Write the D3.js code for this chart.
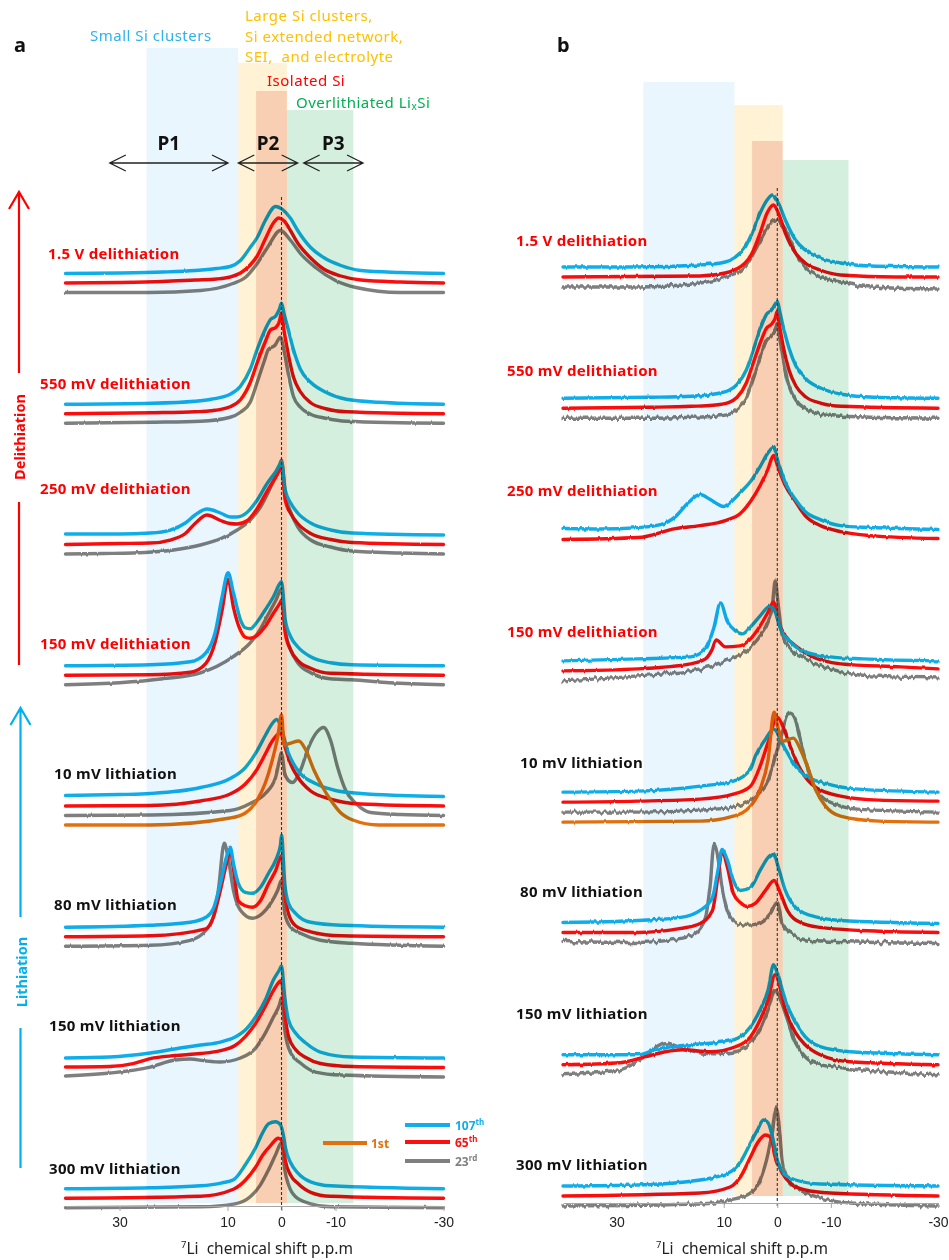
<!DOCTYPE html>
<html>
<head>
<meta charset="utf-8">
<script src="https://cdn.jsdelivr.net/npm/d3@7"></script>
<style>
  body { margin: 0; background: #fff; }
  svg { display: block; }
</style>
</head>
<body>
<svg id="fig" width="949" height="1260"></svg>
<script>
// ---------- data ----------
const rows = ["1.5 V delithiation", "550 mV delithiation", "250 mV delithiation", "150 mV delithiation",
              "10 mV lithiation", "80 mV lithiation", "150 mV lithiation", "300 mV lithiation"];
const rowIsDelith = [true, true, true, true, false, false, false, false];
const cycles = ["107th", "65th", "23rd", "1st"];
const shiftTicks = [30, 10, 0, -10, -30];

// chemical-shift regions (ppm)
const regionFrom = [25, 8, 4.7, -1];
const regionTo = [8, -1, -1, -13.3];

// P1 / P2 / P3 ranges (ppm)
const pNames = ["P1", "P2", "P3"];
const pFrom = [31.8, 8.0, -4.1];
const pTo = [9.9, -3.0, -15.1];

// spectra, [shift ppm, intensity a.u.] per state; panel a
const aBlue = [
  [[40,0],[30,0.5],[22,1.5],[16,3],[12,5],[9.5,7],[7.6,13],[5.8,26],[4.5,36],[3,53],[1.1,67],[-0.2,64],[-1.7,55],[-3,43],[-5.4,26],[-7.8,16],[-11,8],[-14.7,3],[-22,1],[-30,0]],
  [[40,0],[24,1],[16,3],[13,5],[9.5,10],[7.6,18],[5.8,35],[4.5,55],[3,75],[2,85],[1.1,88],[0.4,95],[0,101],[-0.5,90],[-1.1,78],[-2.2,55],[-3.5,35],[-5.4,22],[-8.2,12],[-12,5],[-18,2],[-30,0]],
  [[40,1],[30,1],[24.3,2],[20.6,5],[17.8,12],[16,20],[13.8,26],[11.3,22],[9.5,18],[8.2,18],[6.3,23],[4.5,35],[2.6,52],[1.1,63],[0,72],[-0.7,45],[-1.7,32],[-3,22],[-5.4,12],[-9.1,5],[-13,2],[-30,0]],
  [[40,0],[24.3,1],[16.9,4],[14,13],[12.3,33],[11,69],[9.9,93],[8.9,73],[7.6,46],[6.7,38],[5.8,37],[4.5,44],[3,56],[1.5,69],[0.2,83],[0,84],[-0.7,46],[-1.7,29],[-3,19],[-5.4,9],[-9.1,3],[-13,1],[-30,0]],
  [[40,1],[30,2],[24.3,3],[15,9],[9.5,18],[6.7,29],[4.5,46],[3,61],[1.7,73],[0.9,77],[0,68],[-1.1,46],[-2.2,33],[-3.5,23],[-6.3,13],[-10,6],[-14.7,3],[-22,1],[-30,0]],
  [[40,0],[24.3,2],[16.9,5],[14,10],[12.6,19],[11.3,44],[10.2,70],[9.5,80],[8.9,64],[8,44],[6.7,35],[5.4,34],[3.9,40],[2.4,54],[1.1,67],[0.2,82],[0,92],[-0.6,44],[-1.3,24],[-2.6,14],[-5.4,5],[-11,2],[-30,0]],
  [[40,0],[31.8,1],[24.3,5],[18.8,10],[15,13],[11.3,16],[8.6,21],[6.7,28],[4.8,41],[3,58],[1.5,78],[0.4,88],[0,92],[-0.6,61],[-1.3,38],[-2.6,25],[-4.5,15],[-7.2,6],[-13,1],[-30,0]],
  [[40,0],[24.3,1],[15,3],[11,6],[8.9,9],[6.7,24],[4.8,41],[3.5,56],[2.4,65],[1.1,67],[0.2,64],[-0.4,52],[-0.7,42],[-1.7,26],[-3,16],[-5.4,7],[-9.1,3],[-30,0]]
];
const aRed = [
  [[40,0],[30,0.5],[22,1.5],[16,3],[12,4],[9.5,6],[7.6,10],[5.8,18],[4.5,27],[3,44],[1.5,60],[0.5,65],[-0.5,62],[-1.7,52],[-3,40],[-5.4,25],[-7.8,14],[-11,7],[-14.7,3],[-22,1],[-30,0]],
  [[40,0],[24,1],[16,2],[13,3],[9.5,7],[7.6,14],[5.8,31],[4.5,51],[3,72],[2,84],[1.1,86],[0.4,92],[0,101],[-0.5,82],[-1.1,64],[-2.2,37],[-3.5,22],[-5.4,11],[-8.2,5],[-12,2],[-30,0]],
  [[40,0],[30,1],[24.3,1.5],[20.6,4.5],[17.8,11],[16,21],[13.8,29.5],[11.3,24],[9.5,21],[8.2,20.5],[6.3,24],[4.5,36],[2.6,54],[1.1,67],[0,76],[-0.7,44],[-1.7,31],[-3,21],[-5.4,11],[-9.1,5],[-13,2],[-30,0]],
  [[40,0],[24.3,0.5],[16.9,3],[14,12],[12.3,33],[11,65],[9.9,96],[8.9,68],[7.6,45],[6.7,38],[5.8,37],[4.5,40],[3,49],[1.5,62],[0.2,73],[0,75],[-0.7,42],[-1.7,25],[-3,15],[-5.4,7],[-9.1,2],[-30,0]],
  [[40,0],[24.3,0.5],[15,5],[9.5,12],[6.7,22],[4.5,37],[3,52],[1.7,65],[0.2,73],[-0.7,58],[-1.7,42],[-3,29],[-5.4,15],[-9.1,7],[-14.7,2],[-30,0]],
  [[40,0],[24.3,1],[14,8],[12.6,20],[11.3,47],[10.2,73],[9.5,86],[8.9,68],[8,36],[6.7,31],[5.4,29.5],[3.9,36],[2.4,53],[1.1,66],[0,81],[-0.6,43],[-1.3,23],[-2.6,11],[-5.4,5],[-11,1],[-30,0]],
  [[40,0.5],[31.8,1],[27.5,4],[24.3,9],[19.7,12],[15,14],[11.3,17],[8.6,22],[6.7,31],[4.8,44],[3,61],[1.5,77],[0,87],[-0.6,54],[-1.3,31],[-2.6,18],[-4.5,10],[-7.2,4],[-13,1],[-30,0]],
  [[40,0],[15,2],[8.9,9],[6.7,18],[4.8,31],[3.5,43],[2,53],[0.6,60],[0,58],[-0.4,50],[-0.7,38],[-1.7,23],[-3,15],[-5.4,6],[-9.1,2],[-30,0]]
];
const aGray = [
  [[40,0],[24.5,0],[15,2],[9,9],[6.7,15],[4.5,29],[2.6,45],[0.2,62],[-1.7,52],[-3.5,39],[-6.3,25],[-10,12],[-13.8,5],[-22,0],[-30,0]],
  [[40,0],[24,1],[15,2],[9.5,6],[7.6,11],[5.8,21],[4.5,41],[3.2,62],[2.4,74],[1.2,78],[0.2,86],[-0.5,72],[-1.1,54],[-2.2,27],[-3.5,16],[-5.4,9],[-8.2,5],[-12,2],[-30,0]],
  [[40,0],[33,0.5],[27.5,1],[20,4],[15,9],[11,16],[8.2,24],[5.8,34],[3.9,47],[2,67],[0.6,84],[0,94],[-0.7,60],[-1.7,42],[-3,27],[-5.4,14],[-9.1,7],[-13,3],[-22,1],[-30,0]],
  [[40,0],[30,2],[22,6],[15,12],[9,28],[5.8,42],[4,55],[2.5,70],[1,85],[0,96],[-0.7,55],[-1.7,35],[-3,22],[-5.4,12],[-9,6],[-13,5],[-20,2],[-30,0]],
  [[40,0],[24,0.5],[9.5,5],[5.8,12],[3,22],[1.1,38],[0.4,55],[0,63],[-0.6,42],[-1.3,35],[-2,33],[-3.5,45],[-5,68],[-6.5,83],[-7.8,88],[-9.1,75],[-10.4,48],[-11.9,25],[-13.8,12],[-16.5,3],[-22,1],[-30,0]],
  [[40,0],[24.3,1],[16.9,6],[14,16],[12.6,29],[11.7,56],[10.6,103],[9.9,89],[8.9,56],[7.6,36],[5.4,28],[3.5,33],[2,43],[0.7,56],[0,66],[-0.6,33],[-1.7,19],[-3.5,13],[-7.2,6],[-13,3],[-30,0]],
  [[40,1],[31.8,4],[24.3,10],[19.7,17],[16.9,18],[14,16],[11.3,15],[7.6,19],[4.8,29],[3,44],[1.5,60],[0.4,72],[0,79],[-0.6,47],[-1.7,24],[-3.5,14],[-6.3,5],[-11,2],[-30,0]],
  [[40,0],[15,1],[8.6,4],[5.8,11],[3.9,23],[2.4,38],[1.1,53],[0,65],[-0.6,38],[-1.3,23],[-2.6,11],[-5.4,4],[-9.1,1],[-30,0]]
];
const aOrange = [null, null, null, null,
  [[40,0],[24.3,0],[9.5,7],[6.7,12],[4.5,25],[3,42],[1.7,65],[0.7,88],[0,110],[-0.5,80],[-1.7,82],[-3.2,84],[-4.5,75],[-6,55],[-7.6,38],[-9.1,25],[-11,12],[-13.2,5],[-18,0],[-30,0]],
  null, null, null];

// panel b
const bBlue = [
  [[40,0],[26,0],[14.4,2],[9.7,5],[7.8,10],[6,20],[4.7,34],[3.2,54],[1.9,67],[0.9,72],[-0.2,64],[-1.5,47],[-3.4,27],[-5.2,17],[-8,9],[-11.8,4],[-17.4,1],[-30,0]],
  [[40,0],[24,1],[16,2],[12,4],[9,8],[7.5,14],[5.8,28],[4.5,48],[3,72],[2,84],[1.1,88],[0.4,94],[0,97],[-0.5,86],[-1.1,72],[-2.2,50],[-3.5,32],[-5.4,19],[-8.2,10],[-12,4],[-18,1],[-30,0]],
  [[40,1],[33,0.5],[26,2],[21.8,5],[19,13],[16.6,27],[14.4,35],[12.5,30],[11,25],[10,23],[8.8,27],[6.9,37],[5,48],[3.2,63],[1.7,77],[0.7,82],[-0.2,67],[-1.5,47],[-3.4,30],[-5.2,18],[-8,10],[-11.8,4],[-17.4,2],[-30,0]],
  [[40,0],[26,2],[16.2,4],[13.4,12],[11.9,32],[10.6,58],[9.3,39],[7.8,30],[6.5,27],[5,34],[3.2,45],[1.3,55],[0.4,49],[-0.6,32],[-2.4,19],[-5.2,9],[-9.9,4],[-16,2],[-30,0]],
  [[40,0],[26,1],[14.4,6],[8.2,11],[5,23],[4.1,36],[2.2,53],[0.7,63],[-1.5,43],[-3.4,26],[-5.8,15],[-9.5,8],[-15.1,3],[-30,0]],
  [[40,1],[26,3],[18,6],[14.4,13],[12.1,26],[11,56],[10.3,74],[9.3,63],[8.2,43],[6.9,33],[5,36],[3.2,53],[1.7,66],[0.7,70],[-0.2,56],[-1.5,33],[-3.4,16],[-6.2,8],[-11.8,3],[-30,0]],
  [[40,0],[26,0],[22.8,5],[20.9,7],[16.2,10],[9.7,13],[6.9,18],[5,28],[3.2,45],[1.7,65],[0.7,90],[-0.2,78],[-1.5,55],[-3.4,32],[-5.2,18],[-8,8],[-13.6,3],[-30,0]],
  [[40,0],[26,1],[14.4,6],[8.8,14],[6.9,24],[5,43],[3.7,56],[2.6,66],[1.7,63],[0.9,49],[0,26],[-0.9,14],[-3.4,6],[-8,2],[-30,0]]
];
const bRed = [
  [[40,0],[14.4,1],[9.7,4],[6,14],[4.7,24],[3.2,44],[1.9,64],[0.7,72],[-0.2,64],[-1.5,44],[-3.4,24],[-5.2,14],[-8,7],[-11.8,2],[-22,0],[-30,0]],
  [[40,0],[24,1],[16,2],[12,3],[9,6],[7.5,11],[5.8,25],[4.5,45],[3,68],[2,80],[1.1,84],[0.4,90],[0,97],[-0.5,80],[-1.1,62],[-2.2,38],[-3.5,22],[-5.4,11],[-8.2,5],[-12,2],[-30,0]],
  [[40,0],[26,2],[19,11],[14.4,14],[9.7,19],[6.9,26],[5,38],[3.2,54],[1.7,71],[0.7,84],[-0.2,71],[-1.5,54],[-3.4,38],[-5.2,24],[-8,14],[-11.8,8],[-17.4,4],[-30,1]],
  [[40,0],[26,2],[16.2,7],[13.4,12],[12.2,21],[11.4,31],[9.7,24],[7,25],[5,32],[3.2,45],[1.7,59],[0.7,69],[-0.2,49],[-1.5,35],[-3.4,25],[-6.2,15],[-11.8,7],[-23,4],[-30,2]],
  [[40,0],[26,1],[14.4,3],[8.2,8],[5,16],[3.2,36],[1.7,60],[0,85],[-1.1,75],[-2.4,56],[-4.3,33],[-7.1,15],[-11.8,6],[-19,2],[-30,1]],
  [[40,1],[26,1],[18,5],[14.4,10],[12.1,23],[11,60],[10.3,82],[9.3,66],[8.2,40],[6.9,31],[5.6,27],[4.1,30],[2.2,43],[0.6,53],[-0.6,40],[-1.9,23],[-4.3,11],[-8,6],[-15.5,3],[-30,1]],
  [[40,0],[29.3,2],[24.6,8],[20.9,13],[17.7,15],[12.5,13],[7.8,18],[5,28],[3.2,45],[1.7,65],[0.4,90],[-1.5,55],[-3.4,32],[-5.2,20],[-8,10],[-13.6,3],[-30,0]],
  [[40,0],[14.4,3],[8.8,9],[6.9,19],[5,39],[3.7,53],[2.2,61],[1.3,59],[0.4,39],[-0.9,23],[-2.4,13],[-5.2,6],[-9.9,3],[-30,0]]
];
const bGray = [
  [[40,0],[26,0],[14.4,4],[9.7,10],[6,20],[4.1,37],[2.2,57],[0.4,67],[-1.5,57],[-3.4,34],[-5.2,20],[-8,10],[-11.8,5],[-17.4,0],[-30,-2]],
  [[40,0],[24,0],[16,1],[12,2],[9,4],[7.5,9],[5.8,20],[4.5,40],[3,64],[2,78],[1.1,82],[0.4,88],[0,95],[-0.5,78],[-1.1,58],[-2.2,32],[-3.5,18],[-5.4,9],[-8.2,4],[-12,2],[-30,0]],
  null,
  [[40,0],[26,5],[14.4,12],[9.7,20],[6,29],[3.2,45],[1.7,59],[0.9,75],[0.4,100],[-0.2,75],[-0.9,45],[-2.4,32],[-5.2,22],[-9.9,12],[-17.4,5],[-30,3]],
  [[40,0],[26,0],[14.4,2],[8.2,5],[5,12],[3.2,20],[1.7,32],[0.4,55],[-0.9,80],[-1.7,95],[-2.4,99],[-3.2,95],[-4.3,73],[-5.4,50],[-6.6,30],[-8.2,16],[-10.8,8],[-15,3],[-30,0]],
  [[40,2],[26,1],[18,5],[15.3,10],[13.4,26],[12.5,60],[11.8,99],[11,83],[10.3,56],[9.1,30],[7.8,21],[5.6,18],[3.2,21],[1.3,30],[0,41],[-0.9,20],[-2.4,10],[-6.2,3],[-30,0]],
  [[40,0],[29.3,5],[25.6,15],[22.8,27],[20.9,32],[18.1,27],[14.4,22],[11.6,21],[7.8,23],[5,32],[3.2,45],[1.7,65],[0.4,85],[-0.6,75],[-1.9,55],[-3.4,32],[-5.2,18],[-8,10],[-13.6,6],[-23,2],[-30,0]],
  [[40,0],[14.4,2],[8.8,6],[5,13],[3.2,26],[1.7,53],[0.9,76],[0.2,99],[-0.4,76],[-0.9,46],[-2,26],[-4.3,16],[-8,8],[-13.6,3],[-30,0]]
];
const bOrange = [null, null, null, null,
  [[40,0],[14.4,1],[8.2,6],[5,16],[3.2,33],[1.7,63],[0.6,110],[-0.2,93],[-1.1,81],[-3,84],[-4.3,73],[-5.8,53],[-7.1,33],[-9,16],[-11.8,6],[-19,1],[-30,0]],
  null, null, null];

// ---------- styles ----------
const cycleColors = ["#10aeea", "#fb0f0f", "#7f7f7f", "#e2700e"];
const regionColors = ["#e9f6fd", "#fff2d5", "#f9dad6", "#d5efdf"];
const regionTextColors = ["#2cb4ea", "#ffc000", "#ff0000", "#00b050"];
const labelFont = "'Noto Sans', 'DejaVu Sans', sans-serif";
const tickFont = "'Liberation Sans', Arial, sans-serif";

const panels = [
  { letter: "a", x0: 65.5, x1: 443.5, r0: 273.5, r1: 1188.8, gap: 9.5,
    series: [aBlue, aRed, aGray, aOrange], noise: [1.6, 1.5, 2.2, 1.5],
    bandTop: [48, 63, 91, 110], bandBottom: 1203, axisY: 1206, tickPad: 6, zeroTop: 197,
    labelX: [48, 40, 40, 40, 54, 54, 49, 49], labelY: [253, 383, 488, 643, 773, 904, 1025, 1168],
    letterX: 14, titleX: 267 },
  { letter: "b", x0: 563, x1: 938, r0: 267, r1: 1186, gap: 10,
    series: [bBlue, bRed, bGray, bOrange], noise: [3.4, 2.2, 6.5, 2.2],
    bandTop: [82, 105, 141, 160], bandBottom: 1196, axisY: 1203, tickPad: 9, zeroTop: 188,
    labelX: [516, 507, 507, 507, 520, 520, 516, 516], labelY: [240, 370, 490, 631, 762, 891, 1013, 1164],
    letterX: 557, titleX: 742 }
];

const svg = d3.select("#fig");
svg.append("rect").attr("width", 949).attr("height", 1260).attr("fill", "#fff");
const defs = svg.append("defs");

// jitter each trace vertically only (column-coherent noise)
function noiseFilter(id, scale, seed) {
  const f = defs.append("filter").attr("id", id)
    .attr("filterUnits", "userSpaceOnUse")
    .attr("x", 0).attr("y", 0).attr("width", 949).attr("height", 1260);
  f.append("feTurbulence").attr("type", "fractalNoise")
    .attr("baseFrequency", "0.3 0.01").attr("numOctaves", 2).attr("seed", seed).attr("result", "n");
  f.append("feColorMatrix").attr("in", "n").attr("type", "matrix")
    .attr("values", "0 0 0 0 0.5  0 1 0 0 0  0 0 0 0 0  0 0 0 0 1").attr("result", "m");
  f.append("feDisplacementMap").attr("in", "SourceGraphic").attr("in2", "m")
    .attr("scale", scale).attr("xChannelSelector", "R").attr("yChannelSelector", "G");
}

const amp = d3.scaleLinear().domain([0, 100]).range([0, 100]);

panels.forEach((p, pi) => {
  const x = d3.scaleLinear().domain([40, -30]).range([p.x0, p.x1]);
  const rowY = d3.scalePoint().domain(rows).range([p.r0, p.r1]);
  const g = svg.append("g").attr("class", "panel-" + p.letter);

  // spectra: gray, red, blue, then the 1st-cycle trace on top
  [2, 1, 0, 3].forEach(s => {
    const fid = `noise-${p.letter}-${s}`;
    noiseFilter(fid, p.noise[s], 3 + s * 7 + pi * 13);
    const sg = g.append("g").attr("filter", `url(#${fid})`);
    p.series[s].forEach((pts, ri) => {
      if (!pts) return;
      const base = rowY(rows[ri]) + s * p.gap;
      const line = d3.line()
        .x(d => x(d[0]))
        .y(d => base - amp(d[1]))
        .curve(d3.curveMonotoneX);
      sg.append("path").attr("d", line(pts))
        .attr("fill", "none").attr("stroke", cycleColors[s])
        .attr("stroke-width", 3.4).attr("stroke-linejoin", "round").attr("stroke-linecap", "round");
    });
  });

  // shaded chemical-shift regions, multiplied over the traces
  regionFrom.forEach((r, i) => {
    g.append("rect")
      .attr("x", x(r)).attr("width", x(regionTo[i]) - x(r))
      .attr("y", p.bandTop[i]).attr("height", p.bandBottom - p.bandTop[i])
      .attr("fill", regionColors[i]).style("mix-blend-mode", "multiply");
  });

  // 0 ppm reference
  g.append("line")
    .attr("x1", x(0)).attr("x2", x(0))
    .attr("y1", p.zeroTop).attr("y2", p.axisY + 4)
    .attr("stroke", "#333").attr("stroke-width", 1.1).attr("stroke-dasharray", "3,2");

  // axis
  const ax = g.append("g").attr("transform", `translate(0,${p.axisY})`)
    .call(d3.axisBottom(x).tickValues(shiftTicks).tickSize(5).tickSizeOuter(0)
      .tickPadding(p.tickPad).tickFormat(d => String(d)));
  ax.select(".domain").attr("stroke", "#a6a6a6");
  ax.selectAll(".tick line").attr("stroke", "#a6a6a6");
  ax.selectAll(".tick text").attr("font-family", tickFont).attr("font-size", 14).attr("fill", "#222");

  const title = g.append("text").attr("x", p.titleX).attr("y", 1254)
    .attr("text-anchor", "middle")
    .attr("font-family", labelFont).attr("font-size", 15.5).attr("fill", "#222");
  title.append("tspan").attr("font-size", 9.5).attr("dy", -6).text("7");
  title.append("tspan").attr("dy", 6).text("Li\u00a0 chemical shift p.p.m");

  // state labels
  rows.forEach((r, ri) => {
    g.append("text").attr("x", p.labelX[ri]).attr("y", p.labelY[ri])
      .attr("dominant-baseline", "central")
      .attr("font-family", labelFont).attr("font-size", 15).attr("font-weight", "bold")
      .attr("letter-spacing", 0.3)
      .attr("fill", rowIsDelith[ri] ? "#ff0000" : "#111")
      .text(r);
  });

  // panel letter
  g.append("text").attr("x", p.letterX).attr("y", 52)
    .attr("font-family", labelFont).attr("font-size", 20).attr("font-weight", "bold")
    .attr("fill", "#111").text(p.letter);

  if (p.letter !== "a") return;

  // region captions
  const cap = (tx, ty, col, str) => g.append("text").attr("x", tx).attr("y", ty)
    .attr("dominant-baseline", "central").attr("font-family", labelFont)
    .attr("font-size", 15).attr("letter-spacing", 0.5).attr("fill", col).text(str);
  cap(90, 35, regionTextColors[0], "Small Si clusters");
  cap(245, 15, regionTextColors[1], "Large Si clusters,");
  cap(245, 35.5, regionTextColors[1], "Si extended network,");
  cap(245, 56, regionTextColors[1], "SEI,\u00a0 and electrolyte");
  cap(267, 80, regionTextColors[2], "Isolated Si");
  const ov = cap(296, 102, regionTextColors[3], "Overlithiated Li");
  ov.append("tspan").attr("font-size", 10).attr("dy", 4).text("x");
  ov.append("tspan").attr("dy", -4).text("Si");

  // P1-P3 double arrows
  const ay = 163;
  pNames.forEach((name, i) => {
    const xa = x(pFrom[i]), xb = x(pTo[i]);
    g.append("path")
      .attr("d", `M${xa},${ay}H${xb}M${xa + 16},${ay - 8}L${xa},${ay}L${xa + 16},${ay + 8}M${xb - 16},${ay - 8}L${xb},${ay}L${xb - 16},${ay + 8}`)
      .attr("fill", "none").attr("stroke", "#222").attr("stroke-width", 1.3);
    g.append("text").attr("x", (xa + xb) / 2).attr("y", 143)
      .attr("text-anchor", "middle").attr("dominant-baseline", "central")
      .attr("font-family", labelFont).attr("font-size", 19).attr("font-weight", "bold")
      .attr("fill", "#111").text(name);
  });

  // process-direction arrows at the left
  const sideArrow = (cx, tip, end, textMid, text2Top, bottom, col, word) => {
    g.append("path")
      .attr("d", `M${cx},${tip}V${end}M${cx - 10},${tip + 17}L${cx},${tip}L${cx + 10},${tip + 17}M${cx},${text2Top}V${bottom}`)
      .attr("fill", "none").attr("stroke", col).attr("stroke-width", 2.2);
    g.append("text").attr("transform", `translate(${cx},${textMid}) rotate(-90)`)
      .attr("text-anchor", "middle").attr("dominant-baseline", "central")
      .attr("font-family", labelFont).attr("font-size", 14.5).attr("font-weight", "bold")
      .attr("fill", col).text(word);
  };
  sideArrow(19, 192, 373, 437, 502, 665, "#ff0000", "Delithiation");
  sideArrow(20.5, 708, 917, 972, 1028, 1168, "#00b0f0", "Lithiation");

  // legend
  const leg = [
    { s: 0, x1: 405, x2: 450, y: 1125, tx: 455, main: "107", sup: "th" },
    { s: 1, x1: 405, x2: 450, y: 1142, tx: 455, main: "65", sup: "th" },
    { s: 2, x1: 405, x2: 450, y: 1161, tx: 455, main: "23", sup: "rd" },
    { s: 3, x1: 323, x2: 367, y: 1143, tx: 371, main: "1st", sup: "" }
  ];
  leg.forEach(d => {
    g.append("line").attr("x1", d.x1).attr("x2", d.x2).attr("y1", d.y).attr("y2", d.y)
      .attr("stroke", cycleColors[d.s]).attr("stroke-width", 4);
    const t = g.append("text").attr("x", d.tx).attr("y", d.y)
      .attr("dominant-baseline", "central").attr("font-family", labelFont)
      .attr("font-size", 12).attr("font-weight", "bold").attr("fill", cycleColors[d.s]);
    t.append("tspan").text(d.main);
    if (d.sup) t.append("tspan").attr("font-size", 8).attr("dy", -4).text(d.sup);
  });
});
</script>
</body>
</html>
